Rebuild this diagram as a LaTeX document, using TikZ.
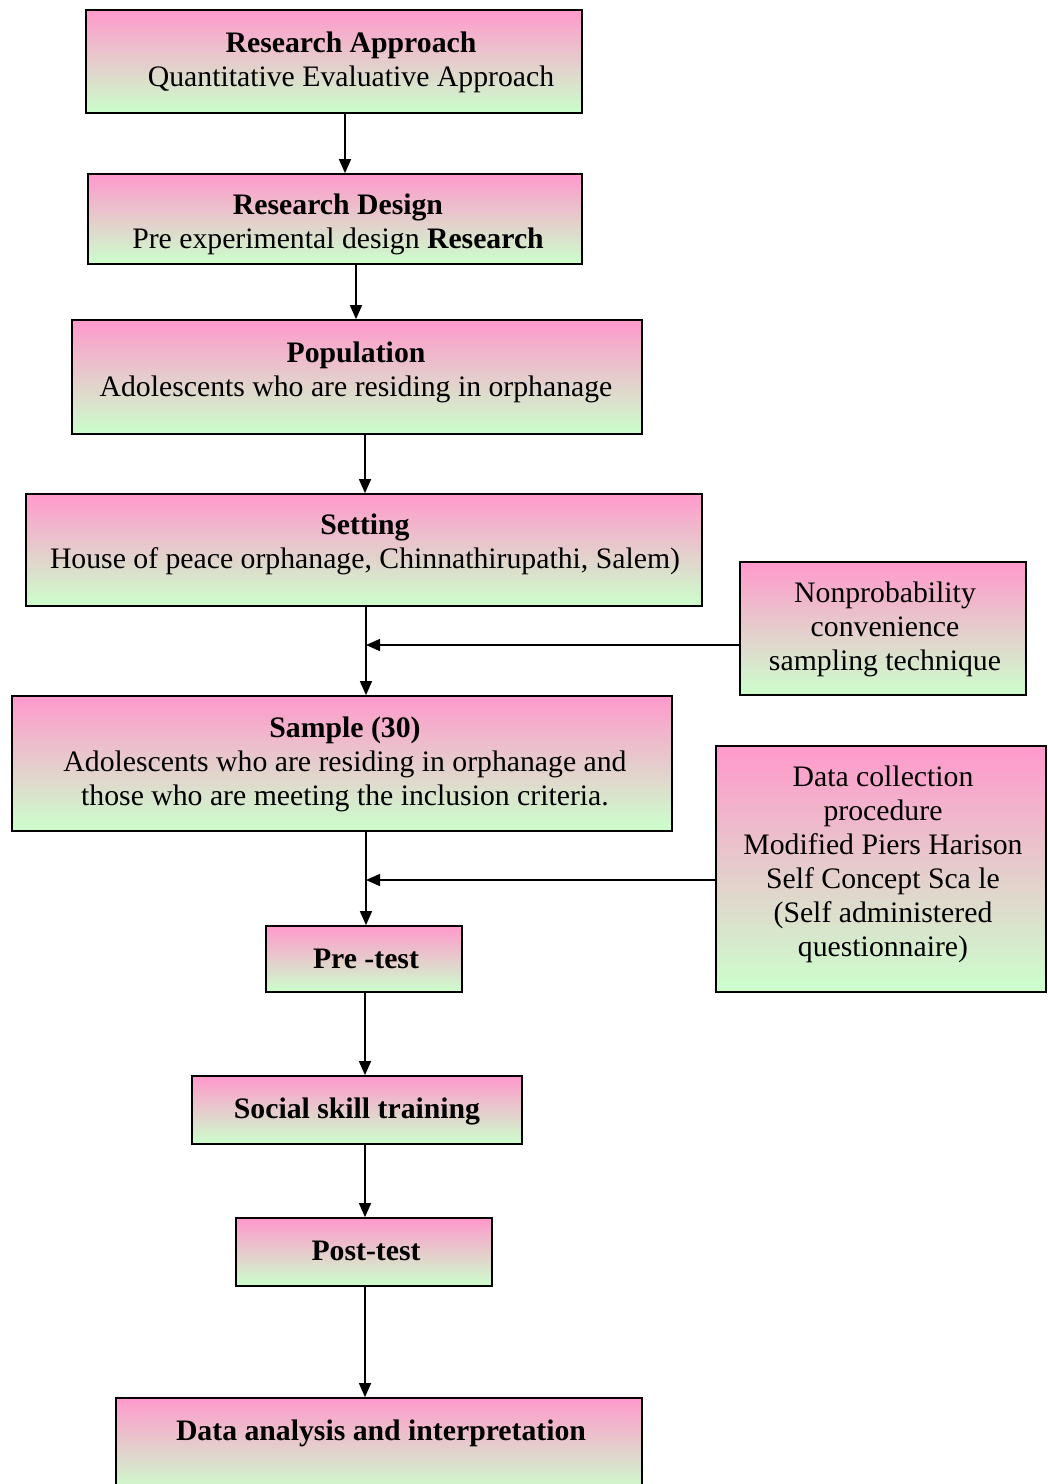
\documentclass[tikz,border=0pt]{standalone}
\usepackage{fontspec}
\setmainfont{Liberation Serif}
\usetikzlibrary{arrows.meta}
\definecolor{pinkc}{HTML}{FF99CC}
\definecolor{greenc}{HTML}{CCFFCC}
\begin{document}
\begin{tikzpicture}[x=0.75pt,y=-0.75pt,
  box/.style={draw=black, line width=1.3pt, top color=pinkc, bottom color=greenc, inner sep=0pt},
  sz/.style 2 args={minimum width=#1*0.75pt, minimum height=#2*0.75pt},
  txt/.style={align=center, font=\fontsize{22.3}{25.5}\selectfont, inner sep=0pt},
  arr/.style={line width=1.1pt, -{Triangle[length=10.5pt,width=9pt]}}]
\useasboundingbox (0,0) rectangle (1048,1484);
% boxes
\node[box, sz={496}{103}] (b1) at (334,61.5) {};
\node[box, sz={494}{90}] (b2) at (335,219) {};
\node[box, sz={570}{114}] (b3) at (357,377) {};
\node[box, sz={676}{112}] (b4) at (364,550) {};
\node[box, sz={286}{133}] (b5) at (883,628.5) {};
\node[box, sz={660}{135}] (b6) at (342,763.5) {};
\node[box, sz={330}{246}] (b7) at (881,869) {};
\node[box, sz={196}{66}] (b8) at (364,959) {};
\node[box, sz={330}{68}] (b9) at (357,1110) {};
\node[box, sz={256}{68}] (b10) at (364,1252) {};
\node[box, sz={526}{94}] (b11) at (379,1445) {};
% texts
\node[txt] (t1) at (351,62) {\textbf{Research Approach}\\Quantitative Evaluative Approach};
\node[txt] (t2) at (338,224) {\textbf{Research Design}\\Pre experimental design \textbf{Research}};
\node[txt] (t3) at (356,372) {\textbf{Population}\\Adolescents who are residing in orphanage};
\node[txt] (t4) at (365,544) {\textbf{Setting}\\House of peace orphanage, Chinnathirupathi, Salem)};
\node[txt] (t5) at (885,629) {Nonprobability\\convenience\\sampling technique};
\node[txt] (t6) at (345,764) {\textbf{Sample (30)}\\Adolescents who are residing in orphanage and\\those who are meeting the inclusion criteria.};
\node[txt] (t7) at (883,864) {Data collection\\procedure\\Modified Piers Harison\\Self Concept Sca le\\(Self administered\\questionnaire)};
\node[txt] (t8) at (366,959) {\textbf{Pre -test}};
\node[txt] (t9) at (357,1111) {\textbf{Social skill training}};
\node[txt] (t10) at (366,1251) {\textbf{Post-test}};
\node[txt] (t11) at (381,1433) {\textbf{Data analysis and interpretation}};
% arrow columns
\coordinate (a1) at (345,0);
\coordinate (a2) at (356,0);
\coordinate (a3) at (365,0);
\coordinate (a4) at (366,0);
\coordinate (h1) at (0,645);
\coordinate (h2) at (0,880);
\draw[arr] (b1.south -| a1) -- (b2.north -| a1);
\draw[arr] (b2.south -| a2) -- (b3.north -| a2);
\draw[arr] (b3.south -| a3) -- (b4.north -| a3);
\draw[arr] (b4.south -| a4) -- (b6.north -| a4);
\draw[arr] (b5.west |- h1) -- (a4 |- h1);
\draw[arr] (b6.south -| a4) -- (b8.north -| a4);
\draw[arr] (b7.west |- h2) -- (a4 |- h2);
\draw[arr] (b8.south -| a3) -- (b9.north -| a3);
\draw[arr] (b9.south -| a3) -- (b10.north -| a3);
\draw[arr] (b10.south -| a3) -- (b11.north -| a3);
\end{tikzpicture}
\end{document}
